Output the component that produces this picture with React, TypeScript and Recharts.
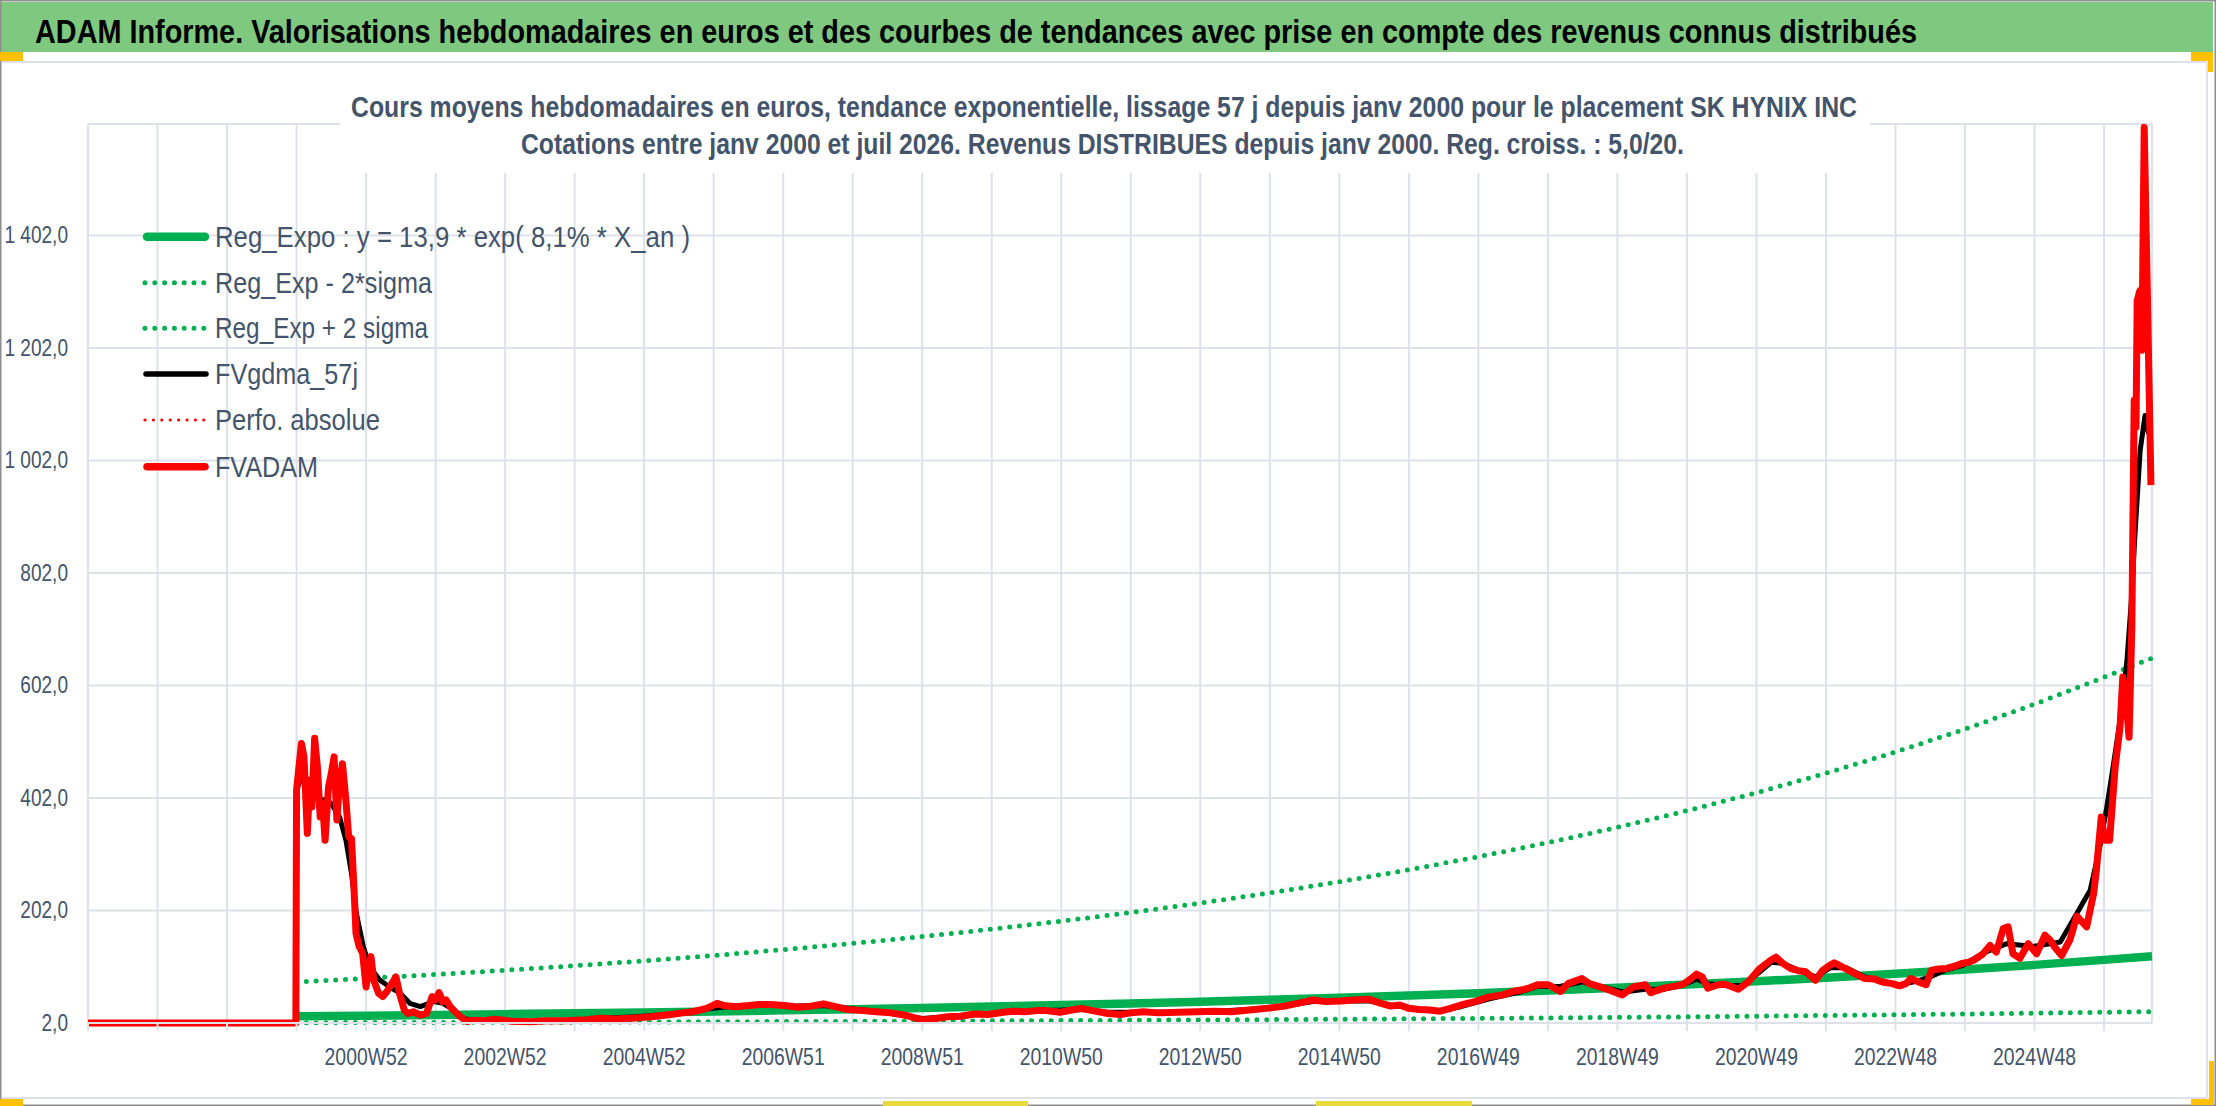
import React from 'react';
import { LineChart, Line, XAxis, YAxis, CartesianGrid } from 'recharts';

// ---------- axis definitions ----------
const X_TICKS = [1997, 1998, 1999, 2000, 2001, 2002, 2003, 2004, 2005, 2006, 2007, 2008, 2009, 2010, 2011, 2012, 2013, 2014, 2015, 2016, 2017, 2018, 2019, 2020, 2021, 2022, 2023, 2024, 2025, 2026];
const X_LABEL_AT = [2001, 2003, 2005, 2007, 2009, 2011, 2013, 2015, 2017, 2019, 2021, 2023, 2025];
const X_LABELS = ['2000W52', '2002W52', '2004W52', '2006W51', '2008W51', '2010W50', '2012W50', '2014W50', '2016W49', '2018W49', '2020W49', '2022W48', '2024W48'];
const Y_TICKS = [2, 202, 402, 602, 802, 1002, 1202, 1402];
const Y_LABELS = ['2,0', '202,0', '402,0', '602,0', '802,0', '1 002,0', '1 202,0', '1 402,0'];

// ---------- trend series (yearly readings) ----------
const TREND_T = [2000, 2001, 2002, 2003, 2004, 2005, 2006, 2007, 2008, 2009, 2010, 2011, 2012, 2013, 2014, 2015, 2016, 2017, 2018, 2019, 2020, 2021, 2022, 2023, 2024, 2025, 2026, 2026.69];
const REG_EXPO = [13.9, 15.07, 16.34, 17.72, 19.22, 20.84, 22.6, 24.51, 26.57, 28.81, 31.25, 33.88, 36.74, 39.84, 43.2, 46.85, 50.8, 55.09, 59.73, 64.77, 70.24, 76.16, 82.59, 89.56, 97.11, 105.31, 114.19, 120.5];
const REG_MINUS = [2.57, 2.79, 3.03, 3.28, 3.56, 3.86, 4.19, 4.54, 4.92, 5.34, 5.79, 6.27, 6.8, 7.38, 8.0, 8.68, 9.41, 10.2, 11.06, 12.0, 13.0, 14.1, 15.3, 16.6, 18.0, 19.5, 21.1, 22.3];
const REG_PLUS = [75.1, 81.4, 88.2, 95.7, 103.8, 112.5, 122.0, 132.4, 143.5, 155.6, 168.8, 183.0, 198.4, 215.1, 233.3, 253.0, 274.3, 297.5, 322.5, 349.8, 379.3, 411.3, 446.0, 483.6, 524.4, 568.7, 616.6, 650.7];

// ---------- FVADAM (weekly valuation) ----------
const FVADAM: [number, number][] = [
  [1997.0, 2], [1999.99, 2], [2000.0, 416], [2000.07, 499], [2000.107, 475], [2000.155, 339], [2000.19, 434], [2000.22, 386],
  [2000.26, 508], [2000.3, 457], [2000.34, 368], [2000.376, 392], [2000.41, 327], [2000.46, 422], [2000.5, 446], [2000.54, 475],
  [2000.58, 363], [2000.61, 416], [2000.66, 463], [2000.71, 398], [2000.75, 333], [2000.79, 330], [2000.83, 232], [2000.855, 161],
  [2000.9, 138], [2000.95, 126], [2001.0, 66], [2001.04, 102], [2001.07, 120], [2001.11, 78], [2001.18, 55], [2001.24, 49],
  [2001.3, 58], [2001.37, 72], [2001.43, 84], [2001.48, 55], [2001.55, 25], [2001.6, 19], [2001.68, 22], [2001.78, 16],
  [2001.87, 19], [2001.95, 49], [2002.0, 43], [2002.05, 56], [2002.1, 40], [2002.15, 43], [2002.21, 31], [2002.28, 22],
  [2002.36, 13], [2002.45, 4.5], [2002.52, 7], [2002.7, 6], [2002.85, 8.5], [2003.1, 5], [2003.36, 4.4], [2003.6, 6],
  [2003.87, 6.1], [2004.17, 8], [2004.37, 10.3], [2004.58, 9], [2004.88, 11], [2005.1, 13], [2005.39, 17], [2005.55, 20],
  [2005.7, 22], [2005.9, 28], [2006.05, 37], [2006.15, 33], [2006.31, 31], [2006.51, 33], [2006.65, 35], [2006.81, 35],
  [2007.02, 33], [2007.22, 30], [2007.4, 32], [2007.58, 36], [2007.75, 31], [2007.93, 26], [2008.15, 24], [2008.34, 22],
  [2008.55, 20], [2008.75, 16], [2009.0, 7.5], [2009.2, 10], [2009.36, 13], [2009.55, 14], [2009.76, 18], [2009.95, 17],
  [2010.17, 21], [2010.3, 23], [2010.47, 22], [2010.65, 24], [2010.78, 24], [2010.98, 21], [2011.15, 25], [2011.29, 28],
  [2011.45, 24], [2011.67, 19], [2011.85, 17], [2012.0, 20], [2012.18, 22], [2012.4, 20], [2012.69, 21], [2012.95, 22],
  [2013.2, 23], [2013.45, 22], [2013.7, 25], [2013.95, 28], [2014.21, 32], [2014.4, 37], [2014.62, 43], [2014.8, 40],
  [2015.02, 41], [2015.2, 43], [2015.43, 44], [2015.6, 37], [2015.74, 32], [2015.87, 34], [2016.0, 28], [2016.15, 26],
  [2016.3, 25], [2016.45, 23], [2016.6, 28], [2016.75, 34], [2016.95, 40], [2017.14, 48], [2017.35, 52], [2017.5, 58],
  [2017.63, 61], [2017.75, 65], [2017.85, 70], [2018.01, 70], [2018.18, 58], [2018.29, 72], [2018.49, 81], [2018.6, 72],
  [2018.73, 67], [2018.9, 60], [2019.07, 52], [2019.23, 66], [2019.4, 70], [2019.48, 56], [2019.67, 64], [2019.85, 68],
  [2019.95, 71], [2020.05, 80], [2020.14, 89], [2020.22, 84], [2020.3, 64], [2020.45, 70], [2020.55, 71], [2020.74, 62],
  [2020.88, 75], [2021.05, 99], [2021.21, 114], [2021.28, 119], [2021.38, 108], [2021.49, 99], [2021.6, 95], [2021.71, 93],
  [2021.85, 78], [2021.95, 95], [2022.06, 105], [2022.12, 109], [2022.2, 104], [2022.37, 93], [2022.56, 81], [2022.7, 80],
  [2022.81, 75], [2022.95, 72], [2023.06, 68], [2023.15, 72], [2023.22, 81], [2023.35, 74], [2023.44, 70], [2023.52, 96],
  [2023.62, 98], [2023.74, 99], [2023.85, 103], [2023.96, 108], [2024.05, 110], [2024.13, 114], [2024.26, 125], [2024.36, 140],
  [2024.45, 128], [2024.55, 170], [2024.62, 173], [2024.69, 125], [2024.79, 117], [2024.91, 143], [2025.03, 125], [2025.15, 158],
  [2025.22, 150], [2025.29, 137], [2025.39, 122], [2025.51, 150], [2025.61, 192], [2025.75, 173], [2025.85, 232], [2025.89, 274],
  [2025.96, 368], [2026.01, 327], [2026.08, 327], [2026.16, 457], [2026.23, 528], [2026.27, 617], [2026.31, 588], [2026.36, 510],
  [2026.4, 706], [2026.434, 1109], [2026.46, 1061], [2026.477, 1286], [2026.516, 1304], [2026.545, 1198], [2026.578, 1594], [2026.675, 958],
];

// ---------- FVgdma_57j (smoothed) ----------
const FVGDMA: [number, number][] = [
  [1997.0, 2], [1999.99, 2], [2000.0, 416], [2000.05, 433], [2000.19, 430], [2000.3, 400], [2000.44, 398], [2000.5, 392],
  [2000.62, 368], [2000.71, 327], [2000.79, 268], [2000.86, 197], [2000.96, 138], [2001.05, 102], [2001.2, 78], [2001.34, 66],
  [2001.49, 55], [2001.63, 37], [2001.78, 31], [2001.97, 40], [2002.11, 37], [2002.26, 25], [2002.4, 10], [2002.55, 6],
  [2002.85, 6], [2003.36, 5], [2003.87, 6.5], [2004.37, 10], [2004.88, 13], [2005.39, 18], [2005.9, 27], [2006.3, 32],
  [2006.8, 34], [2007.2, 32], [2007.58, 33], [2007.93, 28], [2008.34, 23], [2008.75, 15], [2009.0, 10], [2009.36, 13],
  [2009.76, 17], [2010.17, 21], [2010.47, 22.5], [2010.78, 24], [2011.29, 26], [2011.67, 21], [2012.18, 21], [2012.69, 21.5],
  [2013.2, 23], [2013.7, 26], [2014.21, 32], [2014.62, 40], [2015.02, 41], [2015.43, 41], [2015.74, 34], [2016.15, 27],
  [2016.45, 24], [2016.75, 31], [2017.16, 45], [2017.63, 58], [2017.85, 67], [2018.17, 67], [2018.49, 75], [2018.79, 66],
  [2019.09, 57], [2019.4, 62], [2019.67, 62], [2019.95, 70], [2020.14, 80], [2020.3, 72], [2020.55, 69], [2020.8, 68],
  [2021.05, 93], [2021.21, 110], [2021.38, 108], [2021.6, 96], [2021.85, 84], [2022.06, 100], [2022.3, 100], [2022.56, 84],
  [2022.81, 75], [2023.06, 70], [2023.3, 76], [2023.52, 85], [2023.74, 97], [2023.96, 104], [2024.26, 126], [2024.6, 143],
  [2024.98, 138], [2025.37, 146], [2025.61, 197], [2025.8, 238], [2025.94, 315], [2026.04, 386], [2026.13, 457], [2026.23, 540],
  [2026.33, 647], [2026.4, 765], [2026.44, 860], [2026.47, 920], [2026.52, 1020], [2026.59, 1082], [2026.64, 1050],
];

// ---------- legend ----------
const LEGEND_NAMES = ['Reg_Expo : y = 13,9 * exp( 8,1% *  X_an )', 'Reg_Exp - 2*sigma', 'Reg_Exp + 2 sigma', 'FVgdma_57j', 'Perfo. absolue', 'FVADAM'];

const TITLE_BANNER = 'ADAM Informe. Valorisations hebdomadaires en euros et des courbes de tendances avec prise en compte des revenus connus distribués';
const TITLE_1 = 'Cours moyens hebdomadaires en euros, tendance exponentielle, lissage 57 j depuis janv 2000 pour le placement SK HYNIX INC';
const TITLE_2 = 'Cotations entre janv 2000 et juil 2026. Revenus DISTRIBUES depuis janv 2000. Reg. croiss. : 5,0/20.';

// ---------- styling ----------
const W = 2216;
const H = 1106;
const FONT = "'Liberation Sans Narrow', 'Liberation Sans', Arial, sans-serif";
const TEXT = '#44546A';
const GRID = '#DEE2E8';
const GREEN = '#00B050';
const RED = '#FF0000';

const toPoints = (ts: number[], vs: number[]) => ts.map((t, i) => ({ t, v: vs[i] }));
const regData = toPoints(TREND_T, REG_EXPO);
const minusData = toPoints(TREND_T, REG_MINUS);
const plusData = toPoints(TREND_T, REG_PLUS);
const fvadamData = FVADAM.map(([t, v]) => ({ t, v }));
const gdmaData = FVGDMA.map(([t, v]) => ({ t, v }));

// approximate rendered width of a numeric label (narrow face)
const labelWidth = (s: string) => s.split('').reduce((w, c) => w + (/[0-9]/.test(c) ? 10.6 : 5.3), 0);

const XTick = (props: any) => {
  const { x, payload } = props;
  const idx = X_LABEL_AT.indexOf(payload.value);
  if (idx < 0) return <g />;
  return (
    <text x={x} y={1065} textAnchor="middle" fontFamily={FONT} fontSize={24} fill={TEXT} textLength={83} lengthAdjust="spacingAndGlyphs">
      {X_LABELS[idx]}
    </text>
  );
};

const YTick = (props: any) => {
  const { y, payload } = props;
  const idx = Y_TICKS.indexOf(payload.value);
  if (idx < 0) return <g />;
  const label = Y_LABELS[idx];
  return (
    <text x={68} y={y + 8} textAnchor="end" fontFamily={FONT} fontSize={23} fill={TEXT} textLength={labelWidth(label)} lengthAdjust="spacingAndGlyphs">
      {label}
    </text>
  );
};

const legendY = [236.7, 282.7, 328.3, 374, 420, 466.7];
const legendW = [475, 217, 213, 143, 165, 103];

function LegendSample({ i, y }: { i: number; y: number }) {
  if (i === 0) return <line x1={147} x2={205} y1={y} y2={y} stroke={GREEN} strokeWidth={8.5} strokeLinecap="round" />;
  if (i === 1 || i === 2)
    return <line x1={145} x2={208} y1={y} y2={y} stroke={GREEN} strokeWidth={5} strokeDasharray="0 9.8" strokeLinecap="round" />;
  if (i === 3) return <line x1={146} x2={206} y1={y} y2={y} stroke="#000" strokeWidth={5.5} strokeLinecap="round" />;
  if (i === 4)
    return <line x1={145} x2={206} y1={y} y2={y} stroke={RED} strokeWidth={3.2} strokeDasharray="0 8.4" strokeLinecap="round" />;
  return <line x1={147} x2={205} y1={y} y2={y} stroke={RED} strokeWidth={7.5} strokeLinecap="round" />;
}

export default function App() {
  return (
    <div style={{ position: 'fixed', left: 0, top: 0, width: W, height: H, background: '#fff', overflow: 'hidden' }}>
      <div style={{ position: 'absolute', left: 0, top: 0 }}>
        <LineChart width={W} height={H} margin={{ top: 124, right: 64, bottom: 33, left: 0 }}>
          <CartesianGrid stroke={GRID} strokeWidth={2} />
          <XAxis
            dataKey="t"
            type="number"
            domain={[1997, 2026.69]}
            ticks={X_TICKS}
            height={50}
            interval={0}
            axisLine={{ stroke: GRID, strokeWidth: 2 }}
            tickLine={{ stroke: GRID, strokeWidth: 2 }}
            tickSize={8}
            tick={<XTick />}
          />
          <YAxis
            type="number"
            domain={[2, 1600]}
            ticks={Y_TICKS}
            width={88}
            interval={0}
            axisLine={false}
            tickLine={false}
            tick={<YTick />}
          />
          <Line data={regData} dataKey="v" type="linear" stroke={GREEN} strokeWidth={8.5} dot={false} activeDot={false} isAnimationActive={false} name={LEGEND_NAMES[0]} />
          <Line data={minusData} dataKey="v" type="linear" stroke={GREEN} strokeWidth={5} strokeDasharray="0 9.8" strokeLinecap="round" dot={false} activeDot={false} isAnimationActive={false} name={LEGEND_NAMES[1]} />
          <Line data={plusData} dataKey="v" type="linear" stroke={GREEN} strokeWidth={5} strokeDasharray="0 9.8" strokeLinecap="round" dot={false} activeDot={false} isAnimationActive={false} name={LEGEND_NAMES[2]} />
          <Line data={gdmaData} dataKey="v" type="linear" stroke="#000" strokeWidth={5} strokeLinejoin="round" dot={false} activeDot={false} isAnimationActive={false} name={LEGEND_NAMES[3]} />
          <Line data={fvadamData} dataKey="v" type="linear" stroke={RED} strokeWidth={7} strokeLinejoin="round" dot={false} activeDot={false} isAnimationActive={false} name={LEGEND_NAMES[5]} />
        </LineChart>
      </div>
      <svg width={W} height={H} style={{ position: 'absolute', left: 0, top: 0, pointerEvents: 'none' }}>
        {/* banner */}
        <rect x={0} y={2} width={2213} height={50} fill="#7EC87F" />
        <text x={35} y={42.5} fontFamily={FONT} fontWeight="bold" fontSize={33} fill="#000" textLength={1882} lengthAdjust="spacingAndGlyphs">
          {TITLE_BANNER}
        </text>
        {/* frame lines */}
        <line x1={0} x2={2207} y1={62} y2={62} stroke={GRID} strokeWidth={2} />
        <line x1={2207} x2={2207} y1={62} y2={1098} stroke={GRID} strokeWidth={2} />
        <line x1={0} x2={2207} y1={1098} y2={1098} stroke={GRID} strokeWidth={2} />
        <rect x={0.75} y={0.75} width={W - 1.5} height={H - 1.5} fill="none" stroke="#8E8E8E" strokeWidth={1.5} />
        {/* selection handles */}
        <rect x={0} y={52} width={23} height={9} fill="#FFC000" />
        <rect x={2191} y={52} width={22} height={9} fill="#FFC000" />
        <rect x={2208} y={52} width={5} height={20} fill="#FFC000" />
        <rect x={2209} y={1061} width={5} height={44} fill="#FFC000" />
        <rect x={2191} y={1099} width={23} height={6} fill="#FFC000" />
        <rect x={0} y={1099} width={23} height={7} fill="#FFC000" />
        <rect x={883} y={1101} width={145} height={5} fill="#E8DA3A" />
        <rect x={1316} y={1101} width={156} height={5} fill="#E8DA3A" />
        {/* chart title */}
        <rect x={340} y={80} width={1530} height={93} fill="#fff" />
        <text x={351} y={117} fontFamily={FONT} fontWeight="bold" fontSize={29} fill={TEXT} textLength={1506} lengthAdjust="spacingAndGlyphs">
          {TITLE_1}
        </text>
        <text x={521} y={154} fontFamily={FONT} fontWeight="bold" fontSize={29} fill={TEXT} textLength={1163} lengthAdjust="spacingAndGlyphs">
          {TITLE_2}
        </text>
        {/* legend */}
        {LEGEND_NAMES.map((name, i) => (
          <g key={name}>
            <LegendSample i={i} y={legendY[i]} />
            <text x={215} y={legendY[i] + 10} fontFamily={FONT} fontSize={30} fill={TEXT} textLength={legendW[i]} lengthAdjust="spacingAndGlyphs">
              {name}
            </text>
          </g>
        ))}
      </svg>
    </div>
  );
}
